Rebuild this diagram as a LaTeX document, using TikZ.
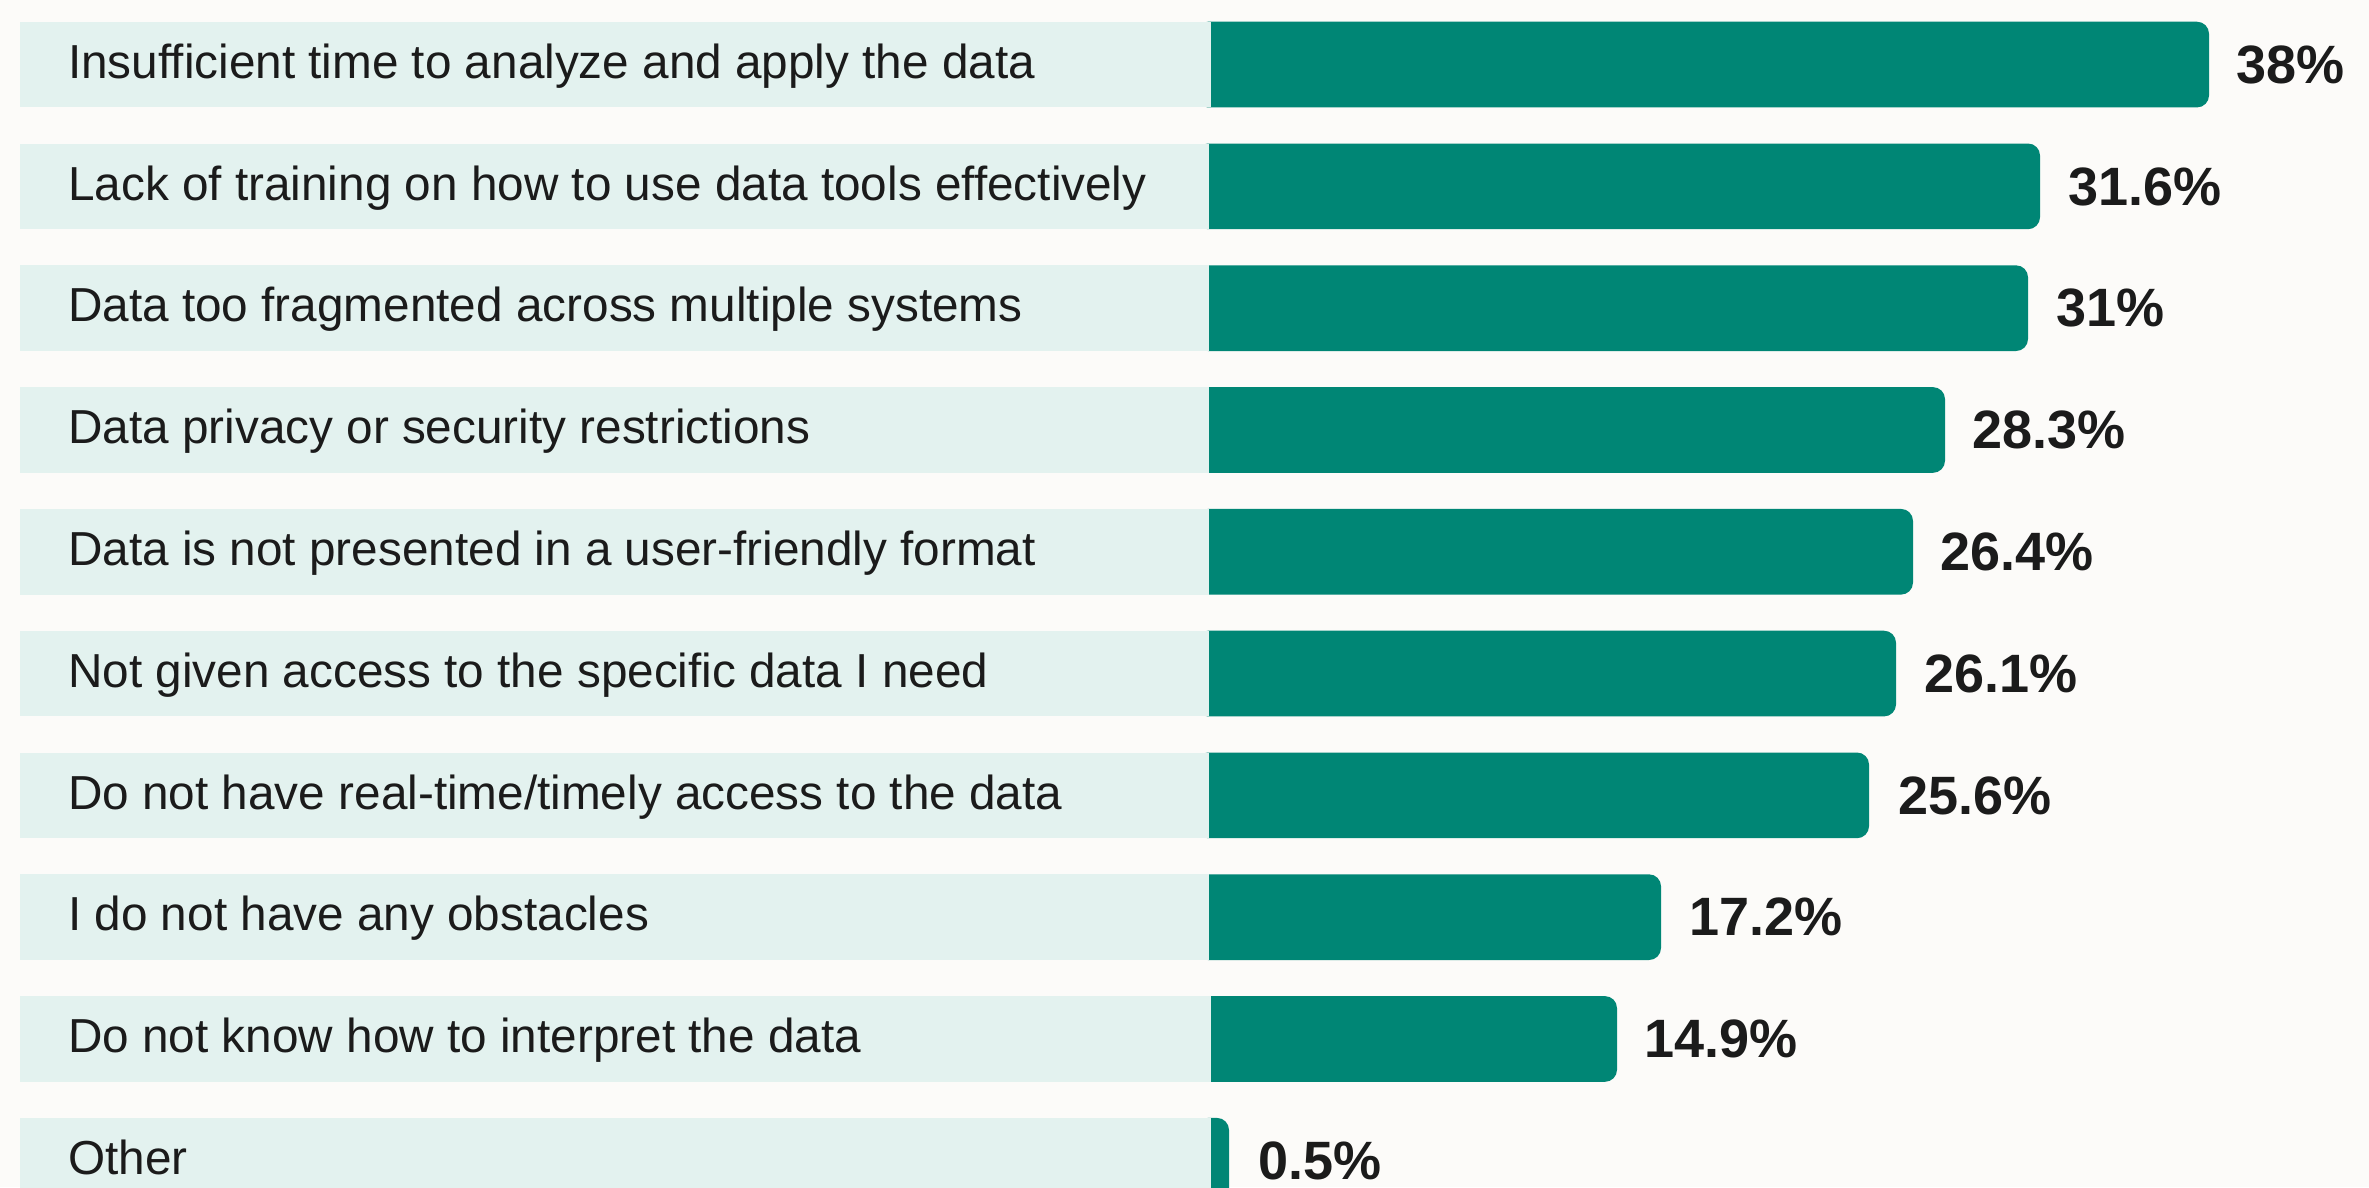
\documentclass[tikz,border=0pt]{standalone}
\usepackage{fontspec}
\setmainfont{Liberation Sans}

\definecolor{barteal}{HTML}{008675}
\definecolor{rowtint}{HTML}{E3F2EF}
\definecolor{pagebg}{HTML}{FCFBF9}
\definecolor{inkgray}{HTML}{1B1B1B}

\tikzset{
  barfill/.style={fill=barteal, rounded corners=12pt},
  rowfill/.style={fill=rowtint},
  qtext/.style={anchor=base west, inner sep=0pt, text=inkgray, font=\fontsize{47.7}{56}\selectfont},
  ptext/.style={anchor=base west, inner sep=0pt, text=inkgray, font=\bfseries\fontsize{54}{60}\selectfont}
}

\begin{document}
\begin{tikzpicture}[x=1pt, y=-1pt]
			% Page
			\useasboundingbox (0,0) rectangle (2369,1187);
			\clip (0,0) rectangle (2369,1187);
			\fill[pagebg] (0,0) rectangle (2369,1187);
			
			% Each row: bar first, then the tinted band over its left end
			
			% Row 1
			\fill[barfill] (1196,21.7) rectangle (2209,107.4);
			\fill[rowfill] (19.6,21.7) rectangle (1211,107.4);
			\node[qtext] (q1) at (68,78.3) {Insufficient time to analyze and apply the data};
			\node[ptext] (p1) at (2236,83.3) {38\%};
			
			% Row 2
			\fill[barfill] (1196,143.5) rectangle (2040,229.2);
			\fill[rowfill] (19.6,143.5) rectangle (1209,229.2);
			\node[qtext] (q2) at (68,200.1) {Lack of training on how to use data tools effectively};
			\node[ptext] (p2) at (2068,205.1) {31.6\%};
			
			% Row 3
			\fill[barfill] (1196,265.3) rectangle (2028,351);
			\fill[rowfill] (19.6,265.3) rectangle (1209,351);
			\node[qtext] (q3) at (68,321.9) {Data too fragmented across multiple systems};
			\node[ptext] (p3) at (2056,326.9) {31\%};
			
			% Row 4
			\fill[barfill] (1196,387.1) rectangle (1945,472.8);
			\fill[rowfill] (19.6,387.1) rectangle (1209,472.8);
			\node[qtext] (q4) at (68,443.7) {Data privacy or security restrictions};
			\node[ptext] (p4) at (1972,448.7) {28.3\%};
			
			% Row 5
			\fill[barfill] (1196,508.9) rectangle (1913,594.6);
			\fill[rowfill] (19.6,508.9) rectangle (1209,594.6);
			\node[qtext] (q5) at (68,565.5) {Data is not presented in a user-friendly format};
			\node[ptext] (p5) at (1940,570.5) {26.4\%};
			
			% Row 6
			\fill[barfill] (1196,630.7) rectangle (1896,716.4);
			\fill[rowfill] (19.6,630.7) rectangle (1209,716.4);
			\node[qtext] (q6) at (68,687.3) {Not given access to the specific data I need};
			\node[ptext] (p6) at (1924,692.3) {26.1\%};
			
			% Row 7
			\fill[barfill] (1196,752.5) rectangle (1869,838.2);
			\fill[rowfill] (19.6,752.5) rectangle (1209,838.2);
			\node[qtext] (q7) at (68,809.1) {Do not have real-time/timely access to the data};
			\node[ptext] (p7) at (1898,814.1) {25.6\%};
			
			% Row 8
			\fill[barfill] (1196,874.3) rectangle (1661,960);
			\fill[rowfill] (19.6,874.3) rectangle (1209,960);
			\node[qtext] (q8) at (68,930.9) {I do not have any obstacles};
			\node[ptext] (p8) at (1689,935.9) {17.2\%};
			
			% Row 9
			\fill[barfill] (1196,996.1) rectangle (1617,1081.8);
			\fill[rowfill] (19.6,996.1) rectangle (1211,1081.8);
			\node[qtext] (q9) at (68,1052.7) {Do not know how to interpret the data};
			\node[ptext] (p9) at (1644,1057.7) {14.9\%};
			
			% Row 10 (runs off the bottom edge)
			\fill[barfill] (1196,1117.9) rectangle (1229,1203.6);
			\fill[rowfill] (19.6,1117.9) rectangle (1211,1203.6);
			\node[qtext] (q10) at (68,1174.5) {Other};
			\node[ptext] (p10) at (1258,1179.5) {0.5\%};
		\end{tikzpicture}
\end{document}
